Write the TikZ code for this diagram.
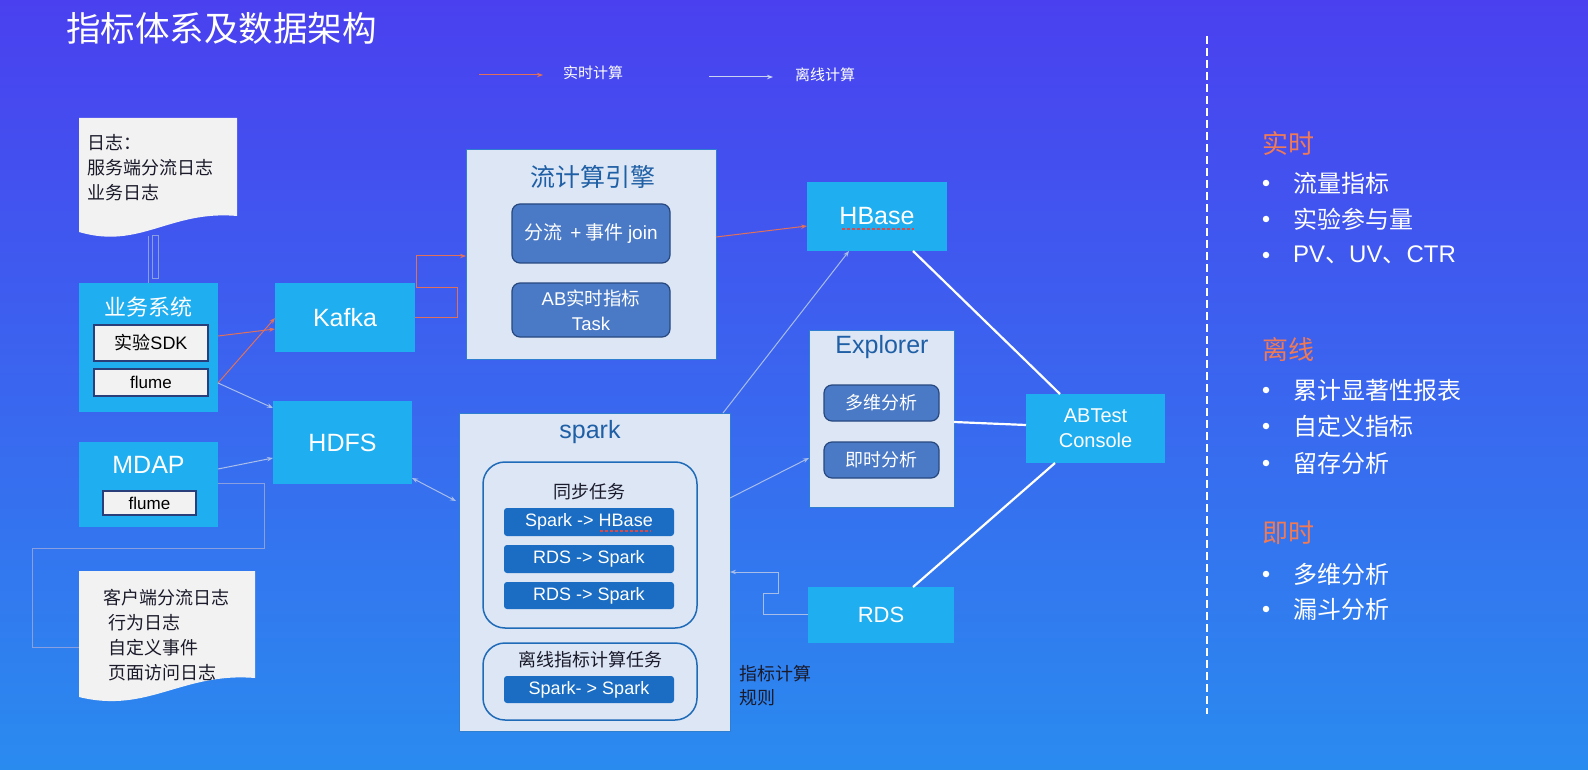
\documentclass[tikz,border=0pt]{standalone}
\usepackage{fontspec}
\setmainfont{Noto Sans CJK SC}
\newfontfamily\lat{Liberation Sans}
\usetikzlibrary{arrows.meta}
\definecolor{bgtop}{HTML}{4A40EF}
\definecolor{bgbot}{HTML}{2A8BEF}
\definecolor{cyanfill}{HTML}{1FAEEF}
\definecolor{lightfill}{HTML}{DCE6F5}
\definecolor{lightedge}{HTML}{2E7FD0}
\definecolor{darkfill}{HTML}{4A79C6}
\definecolor{darkedge}{HTML}{27487F}
\definecolor{barfill}{HTML}{1A6DC2}
\definecolor{grpedge}{HTML}{1F6BB8}
\definecolor{docfill}{HTML}{F2F2F2}
\definecolor{sdkedge}{HTML}{2A3F7A}
\definecolor{redline}{HTML}{E0705A}
\definecolor{grayline}{HTML}{A8BDE8}
\definecolor{legendgray}{HTML}{C8D4F0}
\definecolor{titleblue}{HTML}{1F5FA5}
\definecolor{orangehead}{HTML}{F07A55}
\definecolor{squigred}{HTML}{D94A4A}
\definecolor{docline}{HTML}{8A9FE0}
\definecolor{darktext}{HTML}{1A1A2A}
\newcommand\fsz[2]{\fontsize{#1}{#2}\selectfont}
\tikzset{
  cyanbx/.style={fill=cyanfill, draw=none, text=white, inner sep=0pt},
  lightbx/.style={fill=lightfill, draw=lightedge, line width=1pt, inner sep=0pt},
  darkbx/.style={fill=darkfill, draw=darkedge, line width=1.2pt, rounded corners=8pt, text=white, font=\fsz{18.5}{25}, align=center, inner sep=0pt},
  barbx/.style={fill=barfill, rounded corners=3pt, text=white, font=\lat\fsz{18}{22}, inner sep=0pt},
  grpbx/.style={draw=grpedge, line width=1.5pt, rounded corners=22pt, inner sep=0pt},
  whitebx/.style={fill=docfill, draw=sdkedge, line width=1.8pt, text=black, inner sep=0pt},
  lbl/.style={inner sep=0pt, text=white},
  boxtitle/.style={inner sep=0pt, text=titleblue},
  rt/.style={draw=redline, line width=1pt, -{Stealth[length=6pt,width=4.5pt]}},
  gy/.style={draw=grayline, line width=1pt, -{Stealth[length=6pt,width=4.5pt]}},
  gyboth/.style={draw=grayline, line width=1pt, {Stealth[length=6pt,width=4.5pt]}-{Stealth[length=6pt,width=4.5pt]}},
  plainln/.style={draw=docline, line width=1pt},
  wl/.style={draw=white, line width=2.2pt},
  squig/.style={draw=squigred, line width=2.5pt, dash pattern=on 3pt off 2pt},
  heading/.style={inner sep=0pt, text=orangehead, anchor=west, font=\fsz{26}{30}},
  item/.style={inner sep=0pt, text=white, anchor=west, font=\fsz{24}{28}},
  bulletdot/.style={circle, fill=white, inner sep=0pt, minimum size=6.5pt}
}
\begin{document}
\begin{tikzpicture}[x=1pt,y=-1pt]
% background
\shade[top color=bgtop, bottom color=bgbot] (0,0) rectangle (1588,770);
\useasboundingbox (0,0) rectangle (1588,770);

% title
\node[lbl, anchor=west, font=\fsz{34.5}{40}] (title) at (66,28) {指标体系及数据架构};

% legend
\coordinate (lgra) at (479,75);
\coordinate (lgrb) at (543,75);
\draw[rt] (lgra) -- (lgrb);
\node[lbl, font=\fsz{15}{18}] (lgrt) at (593,73) {实时计算};
\coordinate (lgwa) at (709,77);
\coordinate (lgwb) at (773,77);
\draw[draw=legendgray, line width=1pt, -{Stealth[length=6pt,width=4.5pt]}] (lgwa) -- (lgwb);
\node[lbl, font=\fsz{15}{18}] (lgwt) at (825,75) {离线计算};

% document 1
\fill[docfill] (79,118) -- (237,118) -- (237,216) .. controls (170,210) and (140,250) .. (79,232) -- cycle;
\node[inner sep=0pt, anchor=west, align=left, text=darktext, font=\fsz{18}{25}] (doc1) at (87,168) {日志：\\服务端分流日志\\业务日志};

% document 2
\fill[docfill] (79,571) -- (255,571) -- (255,678) .. controls (182,672) and (148,714) .. (79,697) -- cycle;
\node[inner sep=0pt, anchor=west, align=left, text=darktext, font=\fsz{18}{25}] (doc2) at (103,635) {客户端分流日志\\\hspace{5pt}行为日志\\\hspace{5pt}自定义事件\\\hspace{5pt}页面访问日志};

% business system
\node[cyanbx, minimum width=139pt, minimum height=129pt] (biz) at (148.5,347.5) {};
\node[lbl, font=\fsz{22}{26}] (biztitle) at (148.5,307) {业务系统};
\node[whitebx, minimum width=114pt, minimum height=36pt, font=\fsz{18}{22}] (sdk) at (151,343) {实验{\lat SDK}};
\node[whitebx, minimum width=114pt, minimum height=27pt, font=\lat\fsz{17}{20}] (flume1) at (151,382.5) {flume};

% doc1 -> biz connector (double line)
\coordinate (d1a) at (148,236);
\coordinate (d1b) at (148,283);
\draw[plainln] (d1a) -- (d1b);
\coordinate (d1c) at (152,236);
\coordinate (d1d) at (158,278);
\draw[plainln] (d1c) rectangle (d1d);

% Kafka, HDFS, MDAP
\node[cyanbx, minimum width=140pt, minimum height=69pt, font=\lat\fsz{25}{30}] (kafka) at (345,317.5) {Kafka};
\node[cyanbx, minimum width=139pt, minimum height=83pt] (hdfs) at (342.5,442.5) {};
\node[lbl, font=\lat\fsz{25}{30}] (hdfstitle) at (342.5,443) {HDFS};
\node[cyanbx, minimum width=139pt, minimum height=85pt] (mdap) at (148.5,484.5) {};
\node[lbl, font=\lat\fsz{25}{30}] (mdaptitle) at (148.5,465) {MDAP};
\node[whitebx, minimum width=93pt, minimum height=24pt, font=\lat\fsz{17}{20}] (flume2) at (149.5,503) {flume};

% stream engine
\node[lightbx, minimum width=250pt, minimum height=209pt] (engine) at (591,254.5) {};
\node[boxtitle, font=\fsz{25}{30}] (enginetitle) at (593,177) {流计算引擎};
\node[darkbx, minimum width=158pt, minimum height=59pt, font=\fsz{19}{25}] (join) at (591,233.5) {分流\hspace{8pt}{\lat +} 事件 {\lat join}};
\node[darkbx, minimum width=158pt, minimum height=54pt] (abtask) at (591,310) {{\lat AB}实时指标\\{\lat Task}};

% HBase
\node[cyanbx, minimum width=140pt, minimum height=69pt] (hbase) at (877,216.5) {};
\node[lbl, font=\lat\fsz{25}{30}] (hbasetitle) at (877,216) {HBase};
\coordinate (sqa) at (842,229);
\coordinate (sqb) at (914,229);
\draw[squig] (sqa) -- (sqb);

% Explorer
\node[lightbx, minimum width=145pt, minimum height=177pt] (explorer) at (881.5,418.5) {};
\node[boxtitle, font=\lat\fsz{25}{30}] (explorertitle) at (882,347) {Explorer};
\node[darkbx, minimum width=115pt, minimum height=36pt, font=\fsz{18}{22}] (multi) at (881.5,403) {多维分析};
\node[darkbx, minimum width=115pt, minimum height=36pt, font=\fsz{18}{22}] (instant) at (881.5,460) {即时分析};

% ABTest Console
\node[cyanbx, minimum width=139pt, minimum height=69pt, align=center, font=\lat\fsz{20}{25}] (abtest) at (1095.5,428.5) {ABTest\\Console};

% RDS
\node[cyanbx, minimum width=146pt, minimum height=56pt, font=\lat\fsz{22}{26}] (rds) at (881,615) {RDS};

% spark
\node[lightbx, minimum width=271pt, minimum height=318pt] (spark) at (594.5,572) {};
\node[boxtitle, font=\lat\fsz{25}{30}] (sparktitle) at (590,432) {spark};
\node[grpbx, minimum width=214pt, minimum height=166pt] (syncgrp) at (590,545) {};
\node[inner sep=0pt, text=darktext, font=\fsz{18}{22}] (synctitle) at (589,492) {同步任务};
\node[barbx, minimum width=170pt, minimum height=28pt] (bar1) at (589,522) {Spark -> HBase};
\node[barbx, minimum width=170pt, minimum height=28pt] (bar2) at (589,559) {RDS -> Spark};
\node[barbx, minimum width=170pt, minimum height=27pt] (bar3) at (589,595.5) {RDS -> Spark};
\coordinate (sqc) at (600,531);
\coordinate (sqd) at (651,531);
\draw[squig] (sqc) -- (sqd);
\node[grpbx, minimum width=214pt, minimum height=77pt] (offgrp) at (590,681.5) {};
\node[inner sep=0pt, text=darktext, font=\fsz{18}{22}] (offtitle) at (590,660) {离线指标计算任务};
\node[barbx, minimum width=170pt, minimum height=27pt] (bar4) at (589,689.5) {Spark- > Spark};
\node[inner sep=0pt, anchor=west, align=left, text=darktext, font=\fsz{18}{24}] (rule) at (739,686) {指标计算\\规则};

% connectors: business system
\coordinate (b1) at (218,336);
\coordinate (k1) at (275,329);
\draw[rt] (b1) -- (k1);
\coordinate (b2) at (218,383);
\coordinate (k2) at (275,318);
\draw[rt] (b2) -- (k2);
\coordinate (h1) at (273,408);
\draw[gy] (b2) -- (h1);
\coordinate (m1) at (218,469);
\coordinate (h2) at (273,458);
\draw[gy] (m1) -- (h2);
\coordinate (h3) at (412,478);
\coordinate (s1) at (456,501);
\draw[gyboth] (h3) -- (s1);
% MDAP -> doc2 connector
\coordinate (m2) at (218,483);
\coordinate (d2) at (79,647);
\draw[plainln] (m2) -- (264,483) -- (264,548) -- (32,548) -- (32,647) -- (d2);
% Kafka -> engine
\coordinate (k3) at (415,317);
\coordinate (e1) at (466,256);
\draw[rt] (k3) -- (457,317) -- (457,287) -- (416,287) -- (416,256) -- (e1);
% engine -> HBase
\coordinate (e2) at (716,237);
\coordinate (hb1) at (807,226);
\draw[rt] (e2) -- (hb1);
% spark -> HBase
\coordinate (s2) at (723,413);
\coordinate (hb2) at (849,251);
\draw[gy] (s2) -- (hb2);
% spark -> Explorer
\coordinate (s3) at (730,498);
\coordinate (ex1) at (809,458);
\draw[gy] (s3) -- (ex1);
% RDS -> spark
\coordinate (r1) at (808,614);
\coordinate (s4) at (730,572);
\draw[gy] (r1) -- (763,614) -- (763,593) -- (778,593) -- (778,572) -- (s4);
% white lines to ABTest
\coordinate (hb3) at (913,251);
\coordinate (ab1) at (1060,394);
\draw[wl] (hb3) -- (ab1);
\coordinate (ex2) at (954,422);
\coordinate (ab2) at (1026,425);
\draw[wl] (ex2) -- (ab2);
\coordinate (r2) at (913,587);
\coordinate (ab3) at (1055,463);
\draw[wl] (r2) -- (ab3);

% divider
\coordinate (dva) at (1207,36);
\coordinate (dvb) at (1207,714);
\draw[white, line width=2.5pt, dash pattern=on 8pt off 4pt] (dva) -- (dvb);

% right panel
\node[heading] (h-rt) at (1262,143) {实时};
\node[bulletdot] (b-1) at (1266,183) {};
\node[item] (i-1) at (1293,183) {流量指标};
\node[bulletdot] (b-2) at (1266,219) {};
\node[item] (i-2) at (1293,219) {实验参与量};
\node[bulletdot] (b-3) at (1266,255) {};
\node[item] (i-3) at (1293,255) {{\lat PV}、{\lat UV}、{\lat CTR}};
\node[heading] (h-off) at (1262,350) {离线};
\node[bulletdot] (b-4) at (1266,390) {};
\node[item] (i-4) at (1293,390) {累计显著性报表};
\node[bulletdot] (b-5) at (1266,426) {};
\node[item] (i-5) at (1293,426) {自定义指标};
\node[bulletdot] (b-6) at (1266,463) {};
\node[item] (i-6) at (1293,463) {留存分析};
\node[heading] (h-now) at (1262,533) {即时};
\node[bulletdot] (b-7) at (1266,574) {};
\node[item] (i-7) at (1293,574) {多维分析};
\node[bulletdot] (b-8) at (1266,609) {};
\node[item] (i-8) at (1293,609) {漏斗分析};
\end{tikzpicture}
\end{document}
